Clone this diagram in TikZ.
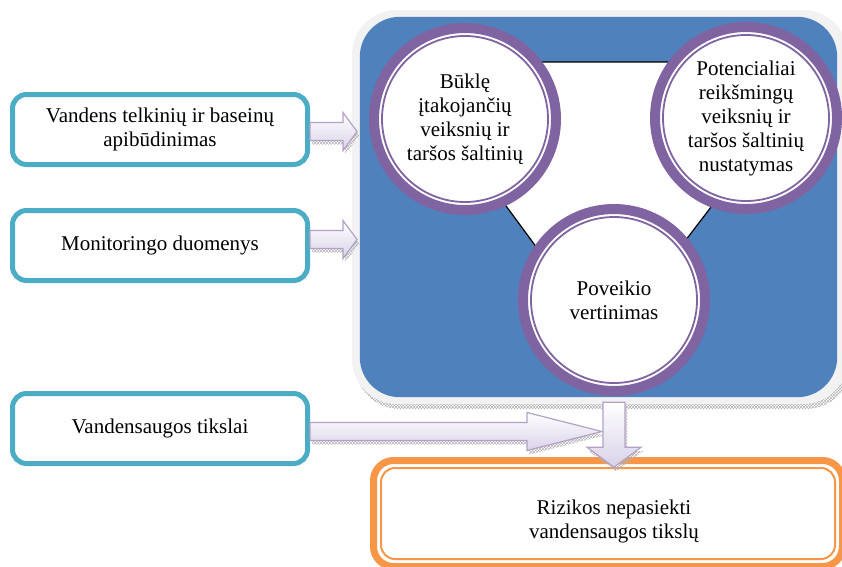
\documentclass[tikz,border=0pt]{standalone}
\usepackage{fontspec}
\setmainfont{Liberation Serif}
\usepackage{tikz}
\usetikzlibrary{positioning, calc, patterns}
\definecolor{panelblue}{HTML}{4F81BD}
\definecolor{panelgray}{HTML}{F2F2F2}
\definecolor{ringviolet}{HTML}{8064A2}
\definecolor{boxteal}{HTML}{4BACC6}
\definecolor{resultorange}{HTML}{F79646}
\definecolor{arrowlilac}{HTML}{D9D2E9}
\definecolor{arrowedge}{HTML}{B3A2C7}

\begin{document}
\begin{tikzpicture}[x=1pt, y=-1pt, font=\fontsize{21}{24}\selectfont]
    \tikzstyle{inbox}=[rectangle, draw=boxteal, line width=5pt, rounded corners=14pt, fill=white, minimum width=295pt, minimum height=70pt, align=center, inner sep=2pt]
    \tikzstyle{ring}=[circle, draw=ringviolet, line width=10pt, fill=white, minimum size=182pt, inner sep=0pt, align=center]
    \tikzstyle{flow}=[draw=arrowedge, line width=1.2pt, top color=white, bottom color=arrowlilac, preaction={pattern=crosshatch, pattern color=gray!60, transform canvas={shift={(2pt,-4pt)}}}]
    \useasboundingbox (0,0) rectangle (842,566);

    % panel with the three steps
    \fill[pattern=crosshatch, pattern color=gray!60, rounded corners=45pt] (355,15) rectangle (851,409);
    \node[rectangle, fill=panelgray, rounded corners=45pt, minimum width=496pt, minimum height=394pt, inner sep=0pt] (panel) at (600,207) {};
    \fill[panelblue, rounded corners=40pt] ($(panel.north west)+(8,7)$) rectangle ($(panel.south east)+(-11,-7)$);

    \coordinate (tl) at (400,62);
    \coordinate (tr) at (822,62);
    \coordinate (tb) at (607,343);
    \filldraw[fill=white, draw=black, line width=1.2pt] (tl) -- (tr) -- (tb) -- cycle;

    \node[ring] (state) at (465,119) {Būklę\\įtakojančių\\veiksnių ir\\taršos šaltinių};
    \node[ring] (sources) at (746,118) {Potencialiai\\reikšmingų\\veiksnių ir\\taršos šaltinių\\nustatymas};
    \node[ring] (impact) at (614,300) {Poveikio\\vertinimas};
    \foreach \c in {state, sources, impact}
        \draw[ringviolet, line width=1.8pt] (\c.center) circle[radius=83pt];

    % inputs
    \node[inbox] (basins) at (160,129.5) {Vandens telkinių ir baseinų\\apibūdinimas};
    \node[inbox, below=41pt of basins] (monitoring) {Monitoringo duomenys};
    \node[inbox, below=108pt of monitoring] (goals) {Vandensaugos tikslai};

    \draw[flow] ($(basins.east)+(0,-7)$) -- ++(33,0) -- ++(0,-10) -- ++(14,19) -- ++(-14,19) -- ++(0,-10) -- ++(-33,0) -- cycle;
    \draw[flow] ($(monitoring.east)+(0,-15)$) -- ++(33,0) -- ++(0,-10) -- ++(14,19) -- ++(-14,19) -- ++(0,-10) -- ++(-33,0) -- cycle;

    % result
    \node[rectangle, draw=resultorange, line width=7pt, rounded corners=20pt, fill=white, minimum width=469pt, minimum height=106pt, inner sep=0pt,
          label={[align=center, xshift=6pt, yshift=-8pt]center:Rizikos nepasiekti\\vandensaugos tikslų}] (result) at (608,513.5) {};
    \draw[resultorange, line width=2pt, rounded corners=14pt] ($(result.north west)+(11,11)$) rectangle ($(result.south east)+(-11,-11)$);

    \draw[flow] ($(goals.east)+(0,-6)$) -- ++(217,0) -- ++(0,-10) -- ++(75,19) -- ++(-75,19) -- ++(0,-10) -- ++(-217,0) -- cycle;
    \draw[flow] ($(impact.center |- panel.south)+(-11,-2)$) -- ++(0,45) -- ++(-16,0) -- ++(27,20) -- ++(27,-20) -- ++(-16,0) -- ++(0,-45) -- cycle;
\end{tikzpicture}
\end{document}
